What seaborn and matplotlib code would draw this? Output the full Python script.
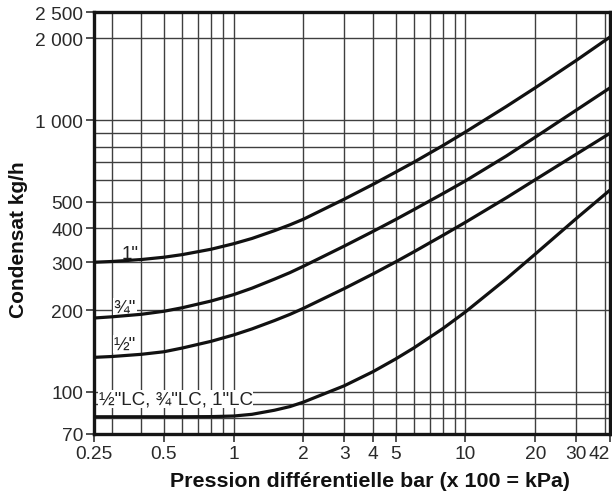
import numpy as np
import pandas as pd
import matplotlib
matplotlib.use('Agg')
import matplotlib.pyplot as plt
import seaborn as sns
from matplotlib.ticker import NullFormatter

pression = [0.25, 0.3, 0.4, 0.5, 0.6, 0.8, 1, 1.2, 1.5, 1.75, 2, 3, 4, 5, 6, 8, 10, 15, 20, 30, 42]
debit_1 = [300, 302, 307, 313, 320, 335, 351, 367, 392, 412, 432, 512, 581, 644, 701, 807, 905, 1123, 1316, 1658, 2023]
debit_34 = [187, 189, 193, 198, 204, 216, 228, 240.8, 260, 274.8, 290, 344, 390, 431, 469, 537, 598, 738, 866, 1088, 1315]
debit_12 = [134, 135, 137.5, 140.5, 145, 153.5, 162, 170.5, 183, 192.9, 203, 240, 272, 301, 328, 377, 421, 518, 604, 749, 895]
debit_lc = [81, 81, 81, 81, 81, 81.1, 81.5, 82.7, 85.6, 88.3, 91.7, 105.3, 118.8, 132.2, 145.3, 171.2, 197, 260.6, 321.6, 434, 553]

tailles = ['1"', '¾"', '½"', 'LC']
x_ticks = [0.25, 0.5, 1, 2, 3, 4, 5, 10, 20, 30, 42]
x_labels = ['0.25', '0.5', '1', '2', '3', '4', '5', '10', '20', '30', '42']
x_grille = [0.3, 0.4, 0.5, 0.6, 0.7, 0.8, 0.9, 1, 2, 3, 4, 5, 6, 7, 8, 9, 10, 20, 30, 40]
y_ticks = [70, 100, 200, 300, 400, 500, 1000, 2000, 2500]
y_labels = ['70', '100', '200', '300', '400', '500', '1 000', '2 000', '2 500']
y_grille = [80, 90, 100, 200, 300, 400, 500, 600, 700, 800, 900, 1000, 2000]

df = pd.DataFrame({
    'pression': pression * 4,
    'condensat': debit_1 + debit_34 + debit_12 + debit_lc,
    'taille': [t for t in tailles for _ in pression],
})

sns.set_theme(style='white')
plt.rcParams['font.family'] = ['Liberation Sans', 'DejaVu Sans']

fig = plt.figure(figsize=(6.12, 5.02), dpi=100)
ax = fig.add_axes([0.1536, 0.1335, 0.8431, 0.8405])

sns.lineplot(data=df, x='pression', y='condensat', hue='taille',
             palette={t: '#111111' for t in tailles}, linewidth=2.3,
             estimator=None, legend=False, ax=ax, zorder=3)

ax.set_xscale('log')
ax.set_yscale('log')
ax.set_xlim(0.25, 42)
ax.set_ylim(70, 2500)

ax.set_xticks(x_ticks, x_labels)
ax.set_yticks(y_ticks, y_labels)
ax.set_xticks(x_grille, minor=True)
ax.set_yticks(y_grille, minor=True)
ax.xaxis.set_minor_formatter(NullFormatter())
ax.yaxis.set_minor_formatter(NullFormatter())

# quadrillage : lignes majeures et mineures identiques
ax.grid(which='both', color='#3f3f3f', linewidth=1.0, zorder=1)
ax.tick_params(which='minor', length=0)
ax.tick_params(which='major', direction='out', length=6, width=1.2,
               color='#333333', labelsize=13.8, labelcolor='#2a2a2a', pad=2,
               left=True, bottom=True)
ax.get_xticklabels()[-1].set_horizontalalignment('right')

for s in ax.spines.values():
    s.set_linewidth(2.4)
    s.set_color('#151515')

ax.set_xlabel('Pression différentielle bar (x 100 = kPa)', fontsize=15.4,
              fontweight='bold', color='#111111')
ax.set_ylabel('Condensat kg/h', fontsize=15, fontweight='bold', color='#111111')
ax.xaxis.set_label_coords(0.535, -0.088)
ax.yaxis.set_label_coords(-0.128, 0.463)

boite = dict(facecolor='white', edgecolor='none', pad=0.5)
ax.text(0.357, 324, '1"', fontsize=13.5, color='#222222', ha='center', va='center', bbox=boite, zorder=2)
ax.text(0.34, 205, '¾"', fontsize=13.5, color='#222222', ha='center', va='center', bbox=boite, zorder=2)
ax.text(0.34, 150, '½"', fontsize=13.5, color='#222222', ha='center', va='center', bbox=boite, zorder=2)
ax.text(0.262, 94, '½"LC, ¾"LC, 1"LC', fontsize=13.5, color='#222222', ha='left', va='center', bbox=boite, zorder=2)

fig.savefig('out.png', dpi=100)
